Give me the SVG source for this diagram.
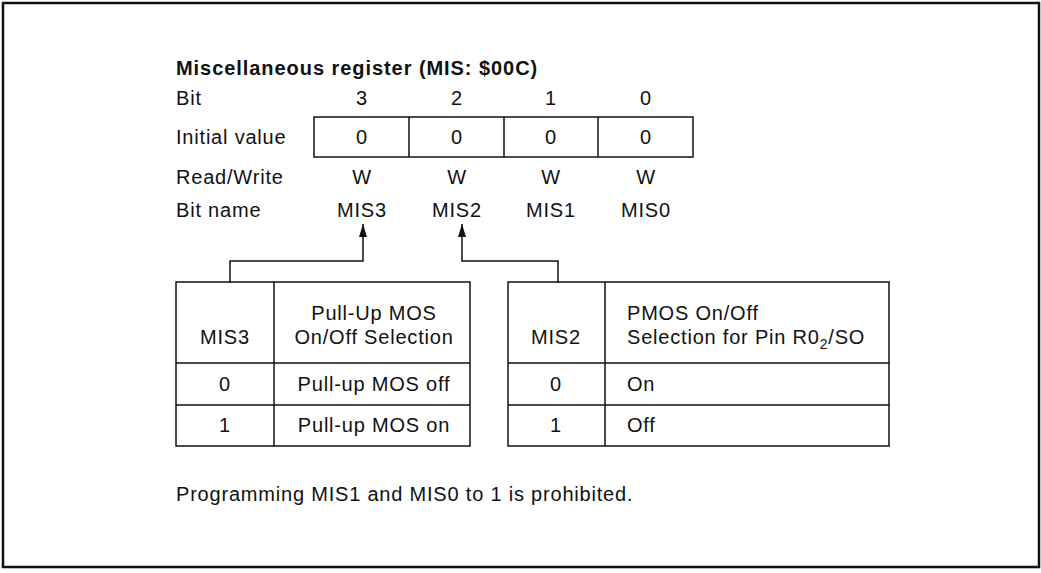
<svg xmlns="http://www.w3.org/2000/svg" width="1041" height="573" viewBox="0 0 1041 573">
<defs>
<style>
text{font-family:"Liberation Sans",Arial,Helvetica,sans-serif;font-size:20px;fill:#111;letter-spacing:0.8px}
.t{font-weight:bold;font-size:20px}
.c{text-anchor:middle}
.ln{fill:none;stroke:#111;stroke-width:1.5}
.fr{fill:none;stroke:#111;stroke-width:2.5}
</style>
<marker id="ah" viewBox="0 0 13 8" refX="13" refY="4" markerWidth="13" markerHeight="8" markerUnits="userSpaceOnUse" orient="auto">
<path d="M0,0 L13,4 L0,8 Z" fill="#111"/>
</marker>
</defs>
<rect class="fr" x="3" y="3" width="1036" height="564"/>
<g id="title"><text class="t" x="176" y="75" textLength="362" lengthAdjust="spacing">Miscellaneous register (MIS:  $00C)</text></g>
<g id="labels">
<text x="176" y="105">Bit</text>
<text x="176" y="144">Initial value</text>
<text x="176" y="184">Read/Write</text>
<text x="176" y="217">Bit name</text>
</g>
<g id="register">
<text class="c" x="362" y="105">3</text>
<text class="c" x="457" y="105">2</text>
<text class="c" x="551" y="105">1</text>
<text class="c" x="646" y="105">0</text>
<rect class="ln" x="314" y="117" width="379" height="40"/>
<path class="ln" d="M409,117V157M504,117V157M598,117V157"/>
<text class="c" x="362" y="144">0</text>
<text class="c" x="457" y="144">0</text>
<text class="c" x="551" y="144">0</text>
<text class="c" x="646" y="144">0</text>
<text class="c" x="362" y="184">W</text>
<text class="c" x="457" y="184">W</text>
<text class="c" x="551" y="184">W</text>
<text class="c" x="646" y="184">W</text>
<text class="c" x="362" y="217">MIS3</text>
<text class="c" x="457" y="217">MIS2</text>
<text class="c" x="551" y="217">MIS1</text>
<text class="c" x="646" y="217">MIS0</text>
</g>
<g id="connectors">
<path class="ln" d="M230,283V261H363V224" marker-end="url(#ah)"/>
<path class="ln" d="M558,283V261H462V224" marker-end="url(#ah)"/>
</g>
<g id="table-mis3">
<rect class="ln" x="176" y="282" width="294" height="164"/>
<path class="ln" d="M274,282V446M176,363H470M176,405H470"/>
<text class="c" x="225" y="344">MIS3</text>
<text class="c" x="374" y="320">Pull-Up MOS</text>
<text class="c" x="374" y="344">On/Off Selection</text>
<text class="c" x="225" y="391">0</text>
<text class="c" x="374" y="391">Pull-up MOS off</text>
<text class="c" x="225" y="432">1</text>
<text class="c" x="374" y="432">Pull-up MOS on</text>
</g>
<g id="table-mis2">
<rect class="ln" x="508" y="282" width="381" height="164"/>
<path class="ln" d="M605,282V446M508,363H889M508,405H889"/>
<text class="c" x="556" y="344">MIS2</text>
<text x="627" y="320">PMOS On/Off</text>
<text x="627" y="344">Selection for Pin R0<tspan font-size="14" dy="5">2</tspan><tspan dy="-5">/SO</tspan></text>
<text class="c" x="556" y="391">0</text>
<text x="627" y="391">On</text>
<text class="c" x="556" y="432">1</text>
<text x="627" y="432">Off</text>
</g>
<g id="note"><text x="176" y="501">Programming MIS1 and MIS0 to 1 is prohibited.</text></g>
</svg>
